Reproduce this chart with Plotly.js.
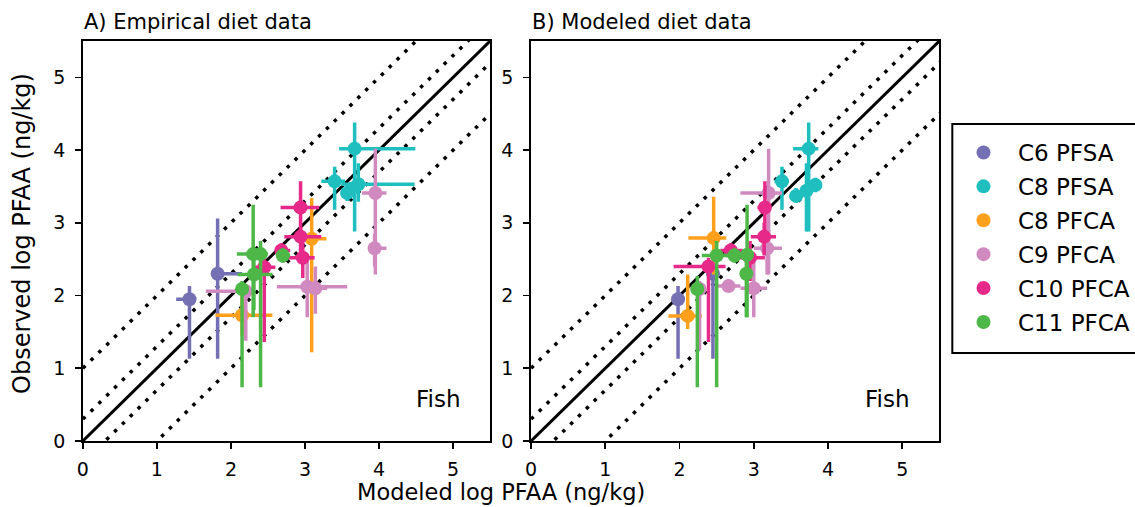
<!DOCTYPE html>
<html><head><meta charset="utf-8">
<script src="https://cdn.plot.ly/plotly-3.0.1.min.js"></script>
<style>html,body{margin:0;padding:0;background:#fff}#c{width:1135px;height:507px}</style>
</head><body><div id="c"></div>
<script>
const compounds = ['C6 PFSA','C8 PFSA','C8 PFCA','C9 PFCA','C10 PFCA','C11 PFCA'];
const colors = ['#7570b3','#1fbfc0','#ffa01c','#d08ac0','#e7298a','#4db848'];
const refOffsets = [0, 0.301, -0.301, 1, -1];
const refX = [0, 6];

// Panel A: empirical diet data (per compound lists)
const A_x  = [[1.44,1.82],[3.67,3.40,3.72,3.57,3.63],[2.15,3.09],[3.95,3.94,3.03,3.14,2.20],[2.94,2.94,2.97,2.68,2.45],[2.30,2.40,2.70,2.31,2.15]];
const A_y  = [[1.95,2.30],[4.02,3.57,3.53,3.41,3.47],[1.73,2.78],[3.41,2.65,2.12,2.10,2.06],[3.21,2.81,2.52,2.62,2.39],[2.57,2.57,2.55,2.29,2.09]];
const A_xlo= [[1.26,1.73],[3.46,3.22,3.49,3.48,3.55],[1.79,2.96],[3.77,3.87,2.62,3.00,1.66],[2.67,2.72,2.73,2.60,2.30],[2.08,2.30,2.62,2.09,2.08]];
const A_xhi= [[1.53,2.15],[4.49,3.54,4.48,3.66,3.72],[2.56,3.29],[4.10,4.10,3.57,3.30,2.22],[3.19,3.22,3.13,2.80,2.60],[2.42,2.50,2.80,2.56,2.22]];
const A_ylo= [[1.13,1.13],[2.88,3.18,3.29,3.30,3.38],[1.45,1.22],[2.29,2.40,1.70,1.75,1.38],[2.84,2.60,2.24,2.50,1.36],[1.70,0.74,2.45,1.80,0.74]];
const A_yhi= [[2.13,3.06],[4.38,3.77,3.82,3.52,3.56],[2.00,3.34],[4.02,2.85,2.47,2.40,2.16],[3.57,2.95,2.75,2.72,2.52],[3.25,2.75,2.65,2.55,2.20]];

// Panel B: modeled diet data
const B_x  = [[1.98,2.45],[3.74,3.38,3.57,3.71,3.83],[2.46,2.11],[3.20,3.18,2.66,3.00,2.27],[3.15,3.14,2.69,2.39,2.95],[2.50,2.74,2.91,2.90,2.24]];
const B_y  = [[1.95,2.30],[4.02,3.57,3.37,3.44,3.52],[2.79,1.72],[3.41,2.65,2.13,2.10,2.09],[3.21,2.81,2.62,2.40,2.52],[2.55,2.55,2.56,2.30,2.09]];
const B_xlo= [[1.93,2.38],[3.53,3.28,3.50,3.64,3.74],[2.12,1.85],[2.82,3.00,2.50,2.82,2.15],[3.05,2.96,2.55,1.92,2.80],[2.30,2.62,2.85,2.85,2.15]];
const B_xhi= [[2.03,2.52],[3.87,3.47,3.65,3.78,3.92],[2.63,2.30],[3.38,3.38,2.82,3.18,2.35],[3.22,3.30,2.85,2.62,3.15],[2.70,2.85,2.98,2.95,2.32]];
const B_ylo= [[1.13,1.13],[2.88,3.18,3.28,2.88,3.42],[2.29,1.54],[2.29,2.29,2.05,1.70,1.25],[2.84,2.55,2.50,1.36,2.20],[0.74,2.45,1.70,1.70,0.74]];
const B_yhi= [[2.13,2.43],[4.38,3.77,3.48,3.82,3.62],[3.36,2.29],[4.02,2.85,2.22,2.47,2.20],[3.57,3.00,2.72,2.52,2.75],[2.75,2.65,3.25,2.55,2.27]];

const xTicks = [0,1,2,3,4,5];
const yTicks = [0,1,2,3,4,5];

const traces = [];
function refLines(xa, ya){
  refOffsets.forEach(o=>{
    traces.push({x: refX, y: refX.map(v=>v+o), xaxis: xa, yaxis: ya, mode:'lines', showlegend:false, hoverinfo:'skip',
      line:{color:'#000', width: o===0?3:3.5, dash: o===0?'solid':'3.5px,7.5px'}});
  });
}
function panel(X,Y,XL,XH,YL,YH,xa,ya,legend){
  compounds.forEach((name,i)=>{
    traces.push({
      x: X[i], y: Y[i], xaxis: xa, yaxis: ya, mode:'markers', name: name, showlegend: legend, legendgroup: 'g'+i,
      marker:{color: colors[i], size: 14},
      error_x:{type:'data', symmetric:false, array: XH[i].map((v,k)=>v-X[i][k]), arrayminus: X[i].map((v,k)=>v-XL[i][k]), color: colors[i], thickness: 3.5, width: 0},
      error_y:{type:'data', symmetric:false, array: YH[i].map((v,k)=>v-Y[i][k]), arrayminus: Y[i].map((v,k)=>v-YL[i][k]), color: colors[i], thickness: 3.5, width: 0}
    });
  });
}
refLines('x','y');
refLines('x2','y2');
panel(A_x,A_y,A_xlo,A_xhi,A_ylo,A_yhi,'x','y',true);
panel(B_x,B_y,B_xlo,B_xhi,B_ylo,B_yhi,'x2','y2',false);

const W=1135,H=507;
const axBase = {range:[0,5.5], tickvals:xTicks, ticks:'outside', ticklen:6, tickwidth:1.6, tickcolor:'#000',
  showline:true, mirror:true, linecolor:'#000', linewidth:1.8, showgrid:false, zeroline:false, ticklabelstandoff:4,
  tickfont:{family:'DejaVu Sans', size:19, color:'#000'}, fixedrange:true};
const yBase = Object.assign({}, axBase, {tickvals:yTicks, ticklabelstandoff:6});
const ydom = [1-441/H, 1-41/H];
const layout = {
  width:W, height:H, margin:{l:0,r:0,t:0,b:0}, paper_bgcolor:'#fff', plot_bgcolor:'#fff',
  font:{family:'DejaVu Sans', color:'#000'},
  xaxis: Object.assign({}, axBase, {domain:[83/W, 491/W], anchor:'y'}),
  yaxis: Object.assign({}, yBase, {domain:ydom, anchor:'x'}),
  xaxis2: Object.assign({}, axBase, {domain:[532/W, 941/W], anchor:'y2'}),
  yaxis2: Object.assign({}, yBase, {domain:ydom, anchor:'x2'}),
  showlegend:true,
  legend:{x:951/W, y:1-131/H, xanchor:'left', yanchor:'top', bgcolor:'rgba(0,0,0,0)', borderwidth:0,
    font:{family:'DejaVu Sans', size:23, color:'#000'}, itemwidth:59, tracegroupgap:1},
  shapes:[
    {type:'rect', xref:'paper', yref:'paper', x0:954/W, x1:1.02, y0:1-353/H, y1:1-124/H, line:{color:'#000', width:2}, fillcolor:'rgba(0,0,0,0)', layer:'below'}
  ],
  annotations:[
    {xref:'paper', yref:'paper', x:82/W, y:1-22/H, xanchor:'left', yanchor:'middle', showarrow:false, text:'A) Empirical diet data', font:{size:21}},
    {xref:'paper', yref:'paper', x:531/W, y:1-22/H, xanchor:'left', yanchor:'middle', showarrow:false, text:'B) Modeled diet data', font:{size:21}},
    {xref:'x', yref:'y', x:4.8, y:0.58, showarrow:false, text:'Fish', font:{size:23}},
    {xref:'x2', yref:'y2', x:4.8, y:0.58, showarrow:false, text:'Fish', font:{size:23}},
    {xref:'paper', yref:'paper', x:502/W, y:1-492/H, xanchor:'center', yanchor:'middle', showarrow:false, text:'Modeled log PFAA (ng/kg)', font:{size:22.5}},
    {xref:'paper', yref:'paper', x:22/W, y:1-233/H, xanchor:'center', yanchor:'middle', showarrow:false, textangle:-90, text:'Observed log PFAA (ng/kg)', font:{size:24}}
  ]
};
Plotly.newPlot('c', traces, layout, {staticPlot:true});
</script></body></html>
